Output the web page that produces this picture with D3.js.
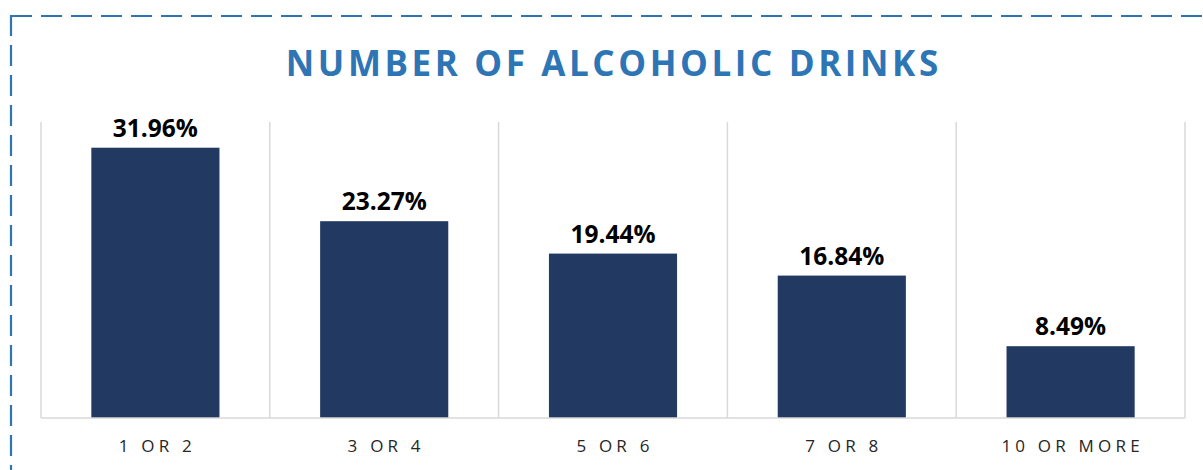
<!DOCTYPE html>
<html>
<head>
<meta charset="utf-8">
<script src="https://cdn.jsdelivr.net/npm/d3@7"></script>
<style>
  body { margin: 0; background: #fff; }
</style>
</head>
<body>
<div id="chart"></div>
<script>
// chart data
let categories = ["1 OR 2", "3 OR 4", "5 OR 6", "7 OR 8", "10 OR MORE"];
let values = [31.96, 23.27, 19.44, 16.84, 8.49];
let labels = ["31.96%", "23.27%", "19.44%", "16.84%", "8.49%"];

let svgWidth = 1203;
let svgHeight = 470;

// plot area inside the svg
let margin = { top: 122, right: 18, bottom: 52, left: 41 };
let width = svgWidth - margin.left - margin.right;
let height = svgHeight - margin.top - margin.bottom;

let svg = d3.select("#chart")
  .append("svg")
  .attr("width", svgWidth)
  .attr("height", svgHeight);

// dashed frame, only top and left visible in the crop
svg.append("rect")
  .attr("x", 11)
  .attr("y", 16)
  .attr("width", 1250)
  .attr("height", 500)
  .attr("fill", "none")
  .attr("stroke", "#2e75b6")
  .attr("stroke-width", 2.2)
  .attr("stroke-dasharray", "21 9");

// title
svg.append("text")
  .attr("x", 612)
  .attr("dx", 1.8)
  .attr("y", 76)
  .attr("text-anchor", "middle")
  .style("font-family", "'Open Sans', sans-serif")
  .style("font-weight", "bold")
  .style("font-size", "35px")
  .style("letter-spacing", "3.6px")
  .attr("fill", "#2e75b6")
  .text("NUMBER OF ALCOHOLIC DRINKS");

let chartGroup = svg.append("g")
  .attr("transform", `translate(${margin.left}, ${margin.top})`);

let xBandScale = d3.scaleBand()
  .domain(categories)
  .range([0, width])
  .paddingInner(0.44)
  .paddingOuter(0.22);

let yLinearScale = d3.scaleLinear()
  .domain([0, 35])
  .range([height, 0]);

// vertical separators between categories
let bounds = d3.range(categories.length + 1).map(i => i * width / categories.length);
chartGroup.selectAll(".sep")
  .data(bounds)
  .enter()
  .append("line")
  .attr("x1", d => d)
  .attr("x2", d => d)
  .attr("y1", 0)
  .attr("y2", height)
  .attr("stroke", "#d9d9d9")
  .attr("stroke-width", 1.5);

// bars
chartGroup.selectAll("rect.bar")
  .data(values)
  .enter()
  .append("rect")
  .attr("class", "bar")
  .attr("x", (d, i) => xBandScale(categories[i]))
  .attr("y", d => yLinearScale(d))
  .attr("width", xBandScale.bandwidth())
  .attr("height", d => height - yLinearScale(d))
  .attr("fill", "#223962");

// baseline
chartGroup.append("line")
  .attr("x1", 0)
  .attr("x2", width)
  .attr("y1", height)
  .attr("y2", height)
  .attr("stroke", "#d9d9d9")
  .attr("stroke-width", 1.5);

// value labels
chartGroup.selectAll("text.val")
  .data(values)
  .enter()
  .append("text")
  .attr("class", "val")
  .attr("x", (d, i) => xBandScale(categories[i]) + xBandScale.bandwidth() / 2)
  .attr("y", d => yLinearScale(d) - 11)
  .attr("text-anchor", "middle")
  .style("font-family", "'Open Sans', sans-serif")
  .style("font-weight", "bold")
  .style("font-size", "24.5px")
  .attr("fill", "#000")
  .text((d, i) => labels[i]);

// category axis
let bottomAxis = d3.axisBottom(xBandScale).tickSize(0).tickPadding(22);
let xAxis = chartGroup.append("g")
  .attr("transform", `translate(0, ${height})`)
  .call(bottomAxis);
xAxis.select(".domain").remove();
xAxis.selectAll("text")
  .attr("dx", 2)
  .style("font-family", "'Open Sans', sans-serif")
  .style("font-size", "17px")
  .style("letter-spacing", "4.2px")
  .attr("fill", "#262626");
</script>
</body>
</html>
